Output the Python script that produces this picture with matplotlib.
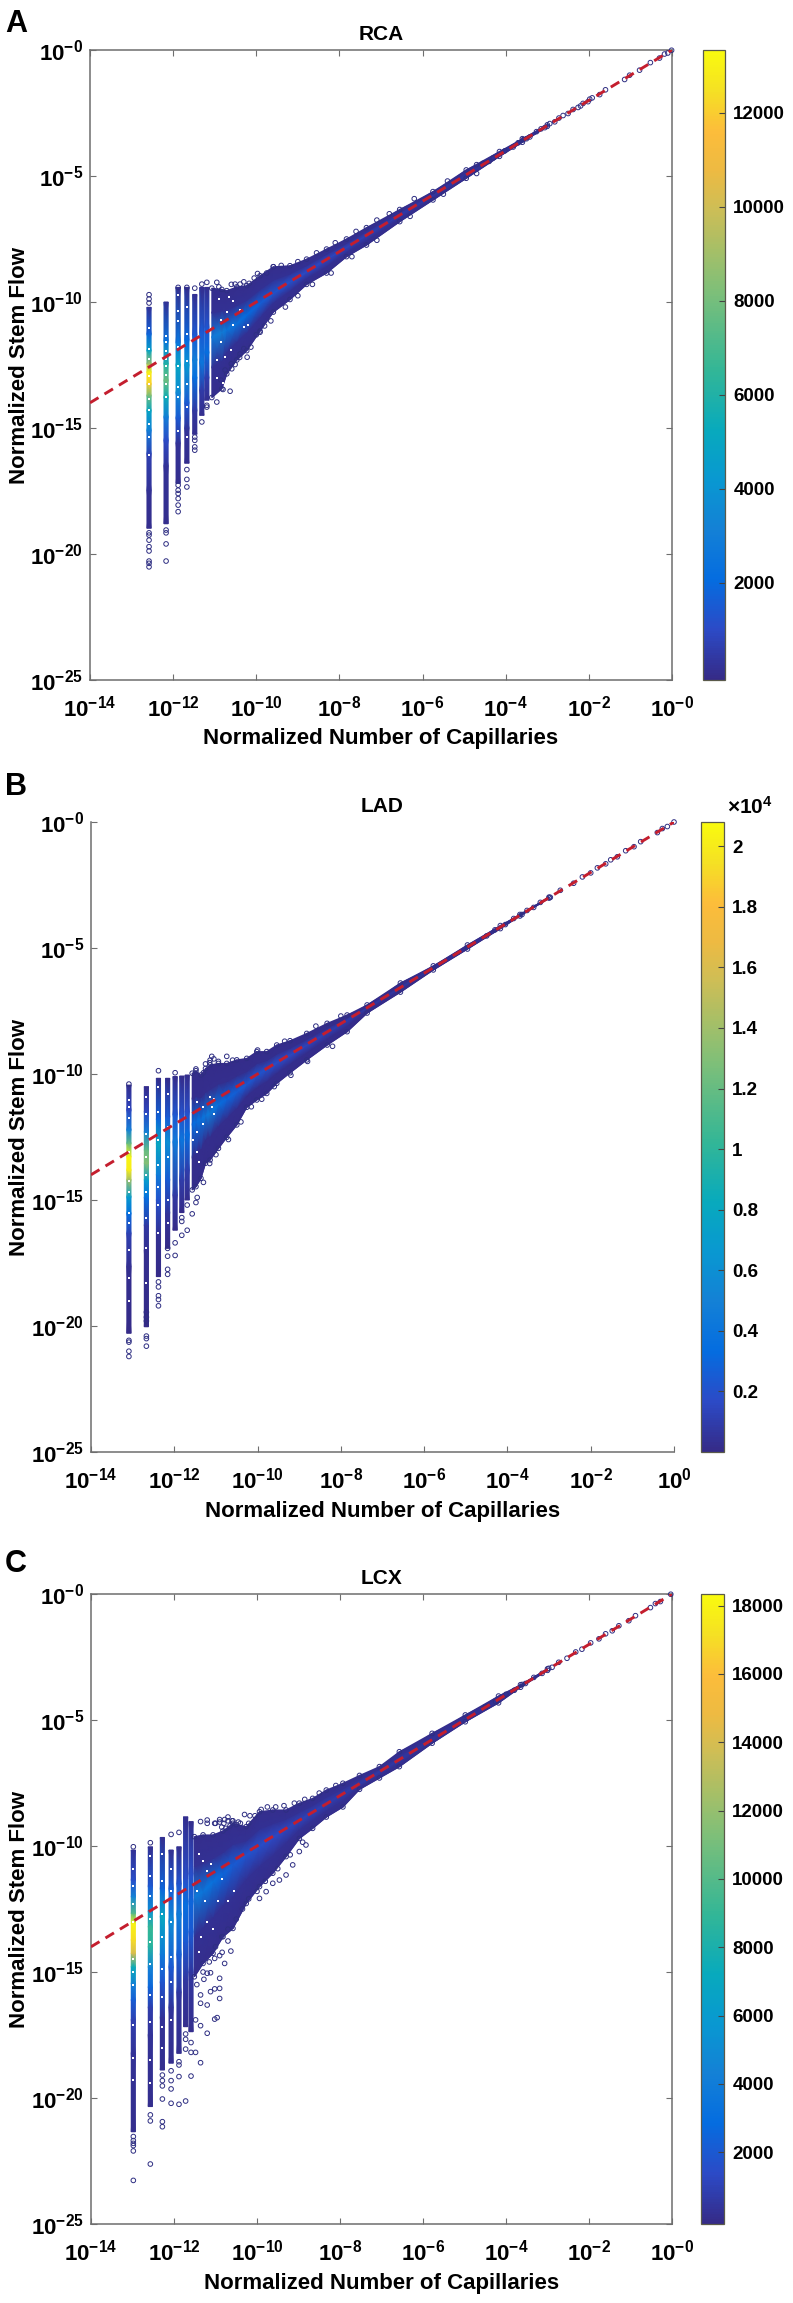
import matplotlib
matplotlib.use("Agg")
import matplotlib.pyplot as plt
import numpy as np
from matplotlib.cm import ScalarMappable
from matplotlib.colors import LinearSegmentedColormap, Normalize

plt.rcParams["font.family"] = ["Liberation Sans", "DejaVu Sans"]
plt.rcParams["font.weight"] = "bold"
plt.rcParams["mathtext.default"] = "regular"

W, H = 793, 2303
NAVY = "#2e2e82"
RED = "#c41e2e"
AXIS_GREY = "#6e6e6e"

# parula, sampled by eye from the colorbars
PARULA = [
    (0.000, (0.208, 0.166, 0.529)), (0.079, (0.171, 0.292, 0.779)),
    (0.159, (0.017, 0.427, 0.879)), (0.238, (0.078, 0.504, 0.838)),
    (0.317, (0.034, 0.597, 0.820)), (0.397, (0.030, 0.665, 0.740)),
    (0.492, (0.200, 0.715, 0.590)), (0.620, (0.500, 0.750, 0.470)),
    (0.746, (0.800, 0.745, 0.340)), (0.810, (0.930, 0.730, 0.260)),
    (0.873, (0.990, 0.740, 0.230)), (0.937, (0.960, 0.880, 0.140)),
    (1.000, (0.976, 0.983, 0.054)),
]

# all x / y values below are log10 exponents
# RCA
rca_col_x = [-12.58, -12.17, -11.88, -11.67, -11.48, -11.31, -11.19]
rca_col_y = [
    [-18.98, -17.47, -16.02, -15.09, -14.30, -13.71, -13.25, -12.78, -12.45, -11.93, -11.27, -10.21],
    [-18.80, -16.50, -15.49, -14.56, -13.77, -13.11, -12.45, -11.53, -10.00],
    [-17.20, -15.60, -14.60, -13.60, -12.50, -11.60, -9.42],
    [-16.40, -15.00, -14.00, -12.50, -11.50, -9.42],
    [-15.25, -14.30, -13.00, -12.30, -11.30, -9.70],
    [-14.50, -13.50, -12.40, -11.20, -9.42],
    [-13.90, -13.00, -12.00, -11.00, -9.42],
]
rca_col_n = [
    [50, 150, 700, 3000, 5000, 8000, 12000, 13000, 9000, 5000, 1800, 200],
    [50, 200, 1000, 3000, 5500, 7800, 6000, 2500, 150],
    [50, 250, 1500, 3500, 5000, 2500, 120],
    [50, 300, 1500, 4200, 2000, 100],
    [60, 400, 2200, 3000, 1500, 100],
    [80, 500, 2600, 1500, 100],
    [100, 600, 2200, 1300, 120],
]
rca_gap_y = [
    [-11.03, -11.86, -12.26, -12.59, -12.92, -13.25, -13.84, -14.30, -14.83, -15.36, -16.08],
    [-11.33, -11.60, -11.93, -12.26, -12.53, -12.88, -13.25, -13.77],
    [-9.71, -10.34, -10.74, -11.80, -12.53, -13.38, -13.77, -15.10],
    [-10.21, -11.27, -12.33, -13.25, -14.17, -15.36],
]
rca_edge_x = [-11.07, -10.83, -10.71, -10.47, -10.23, -9.91, -9.59, -9.19, -8.79, -8.31, -7.83, -7.35, -6.55, -5.75, -4.95, -4.15, -3.60, -3.00]
rca_edge_top = [-9.45, -9.50, -9.55, -9.40, -9.35, -8.96, -8.60, -8.56, -8.30, -7.90, -7.50, -7.05, -6.33, -5.62, -4.76, -4.03, -3.52, -2.97]
rca_edge_low = [-13.79, -13.44, -12.85, -12.30, -11.93, -11.15, -10.40, -9.90, -9.30, -8.85, -8.20, -7.74, -6.81, -5.95, -5.09, -4.22, -3.66, -3.03]
rca_ridge_y = [-11.40, -11.20, -11.10, -10.85, -10.50, -10.05, -9.65, -9.20, -8.80, -8.30, -7.83, -7.35, -6.55, -5.75, -4.95, -4.15, -3.60, -3.00]
rca_ridge_n = [2800, 3000, 2600, 2400, 2100, 1700, 1400, 1200, 1000, 900, 800, 700, 550, 450, 350, 250, 150, 100]
rca_out_x = [-12.58, -12.58, -12.58, -12.58, -12.58, -12.58, -12.58, -12.58, -12.58, -12.58, -12.58,
             -12.17, -12.17, -12.17, -12.17,
             -11.88, -11.88, -11.88, -11.88, -11.88, -11.88, -11.88,
             -11.67, -11.67, -11.67, -11.67,
             -11.48, -11.48, -11.48, -11.48, -11.48,
             -11.31, -11.31, -11.19, -11.19, -11.19,
             -10.95, -10.95, -10.63, -10.80, -10.22, -10.51, -10.59, -10.13, -10.39, -9.91, -10.51, -10.39, -10.17, -9.97, -9.59,
             -10.90, -10.60, -10.30, -10.05, -9.75, -9.40, -9.00, -8.55, -8.10, -7.60, -7.10, -6.80, -6.20, -5.40, -4.70,
             -10.85, -10.75, -10.60, -10.40, -10.30, -10.00, -9.80, -9.65, -9.30, -9.00, -8.65, -8.20, -7.70, -7.10, -6.30, -5.50, -4.70]
rca_out_y = [-9.71, -9.88, -10.04, -19.16, -19.25, -19.45, -19.71, -19.88, -20.28, -20.37, -20.51,
             -19.60, -19.16, -19.05, -20.28,
             -9.42, -17.27, -17.47, -17.60, -17.80, -18.06, -18.32,
             -9.42, -16.65, -17.04, -17.34,
             -9.45, -15.75, -15.88, -15.36, -15.49,
             -9.29, -14.76, -9.22, -14.10, -14.17,
             -9.22, -13.97, -13.54, -13.47, -12.19, -12.48, -12.65, -11.79, -12.06, -11.20, -9.29, -9.29, -9.26, -8.87, -8.60,
             -9.40, -9.30, -9.20, -9.05, -8.85, -8.55, -8.40, -8.05, -7.65, -7.20, -6.75, -6.50, -5.90, -5.20, -4.55,
             -13.10, -12.70, -12.45, -12.20, -11.85, -11.30, -10.95, -10.75, -10.20, -9.75, -9.30, -8.85, -8.20, -7.55, -6.60, -5.72, -4.90]
rca_speck_x = [-10.85, -10.85, -10.70, -10.55, -10.40, -10.95, -10.95, -10.75, -10.60, -10.30, -10.20, -10.80, -10.90, -10.65, -10.55]
rca_speck_y = [-10.70, -11.60, -10.40, -9.95, -10.30, -12.30, -13.00, -12.20, -11.90, -11.00, -10.90, -13.20, -9.90, -9.80, -10.90]
rca_tail_x = [-0.01, -0.10, -0.18, -0.30, -0.52, -0.78, -1.02, -1.14, -1.60, -1.74, -1.92, -1.98, -2.02, -2.14, -2.20, -2.26, -2.38, -2.50, -2.62, -2.72, -2.82, -2.94, -3.06, -3.15, -3.26, -3.42, -3.50, -3.58, -3.70, -3.82, -4.02, -4.30, -4.40, -4.55]
rca_tail_y = [-0.01, -0.12, -0.16, -0.32, -0.50, -0.80, -1.00, -1.17, -1.58, -1.77, -1.90, -1.95, -2.05, -2.12, -2.22, -2.28, -2.36, -2.52, -2.60, -2.70, -2.85, -2.92, -3.08, -3.13, -3.24, -3.45, -3.52, -3.56, -3.68, -3.85, -4.00, -4.28, -4.42, -4.50]
rca_ticks = [2000, 4000, 6000, 8000, 10000, 12000]
rca_clim = (-64, 13340)

# LAD
lad_col_x = [-13.09, -12.67, -12.38, -12.16, -11.98, -11.82, -11.69]
lad_col_y = [
    [-20.29, -17.64, -16.32, -15.53, -14.87, -14.20, -13.81, -13.28, -12.75, -12.22, -11.43, -10.44],
    [-20.03, -17.00, -16.00, -14.90, -14.20, -13.54, -13.02, -12.30, -11.50, -10.50],
    [-18.04, -16.30, -15.00, -14.00, -12.75, -11.80, -10.17],
    [-16.92, -15.50, -14.20, -12.70, -11.70, -10.17],
    [-16.20, -14.80, -12.70, -11.60, -10.10],
    [-15.50, -14.20, -12.60, -11.60, -10.08],
    [-15.00, -13.80, -12.40, -11.50, -10.04],
]
lad_col_n = [
    [50, 300, 1200, 3500, 7000, 14000, 20000, 20500, 12000, 5000, 1500, 200],
    [50, 300, 800, 3500, 7000, 13000, 12000, 5000, 1500, 150],
    [50, 400, 2000, 4500, 8000, 3000, 120],
    [60, 500, 2500, 6000, 2500, 120],
    [70, 800, 4500, 2200, 120],
    [80, 900, 4000, 2000, 120],
    [100, 1000, 3500, 1800, 120],
]
lad_gap_y = [
    [-11.02, -11.30, -11.75, -13.10, -14.25, -14.70, -15.50, -15.90, -17.00, -18.10, -19.00],
    [-10.90, -11.60, -12.40, -13.30, -14.00, -14.70, -15.70, -16.90, -18.30],
    [-10.50, -11.50, -12.60, -13.60, -14.50, -15.20, -16.30],
    [-10.80, -12.10, -13.30, -15.00, -15.90],
]
lad_edge_x = [-11.57, -11.48, -11.36, -11.25, -11.14, -10.94, -10.74, -10.50, -10.26, -10.02, -9.78, -9.54, -9.22, -8.82, -8.33, -7.85, -7.37, -6.57, -5.78, -4.96, -4.17, -3.70, -3.00]
lad_edge_top = [-9.97, -9.87, -10.04, -9.78, -9.64, -9.58, -9.58, -9.44, -9.38, -9.11, -9.11, -8.85, -8.68, -8.39, -7.99, -7.66, -7.26, -6.39, -5.71, -4.88, -4.11, -3.67, -2.98]
lad_edge_low = [-14.60, -14.47, -14.14, -13.54, -13.41, -12.95, -12.51, -12.02, -11.32, -11.03, -10.77, -10.37, -9.95, -9.44, -8.85, -8.32, -7.58, -6.75, -5.87, -5.04, -4.23, -3.73, -3.02]
lad_ridge_y = [-12.00, -11.90, -11.80, -11.65, -11.55, -11.20, -11.00, -10.70, -10.40, -10.05, -9.80, -9.55, -9.25, -8.85, -8.35, -7.87, -7.37, -6.57, -5.78, -4.96, -4.17, -3.70, -3.00]
lad_ridge_n = [3300, 3600, 3800, 4200, 4500, 3600, 3000, 2700, 2400, 2200, 2000, 1800, 1600, 1400, 1200, 1000, 800, 650, 500, 350, 200, 100, 100]
lad_out_x = [-13.09, -13.09, -13.09, -13.09, -13.09,
             -12.67, -12.67, -12.67, -12.67, -12.67, -12.67,
             -12.38, -12.38, -12.38, -12.38, -12.38, -12.38,
             -12.16, -12.16, -12.16, -12.16,
             -11.98, -11.98, -11.98, -11.82, -11.82, -11.82, -11.69, -11.69,
             -11.57, -11.48, -11.48, -11.25, -11.14, -11.10, -10.94, -10.74,
             -11.30, -11.15, -11.05, -10.60, -10.00, -9.35, -8.60, -8.00,
             -11.45, -11.30, -11.15, -11.00, -10.70, -10.40, -10.15, -9.90, -9.60, -9.20, -8.80, -8.20]
lad_out_y = [-10.40, -20.57, -20.64, -21.00, -21.21,
             -19.45, -19.65, -19.80, -20.40, -20.50, -20.80,
             -9.87, -18.25, -18.45, -18.80, -18.95, -19.20,
             -16.92, -17.23, -17.75, -17.95,
             -9.95, -16.70, -17.20, -15.70, -15.85, -16.40, -16.20, -15.20,
             -15.55, -9.80, -15.10, -9.60, -9.45, -9.30, -9.50, -9.30,
             -9.95, -9.55, -9.40, -9.45, -9.05, -8.70, -8.10, -7.70,
             -14.90, -14.30, -13.55, -13.20, -12.60, -11.90, -11.30, -11.00, -10.50, -10.05, -9.50, -8.90]
lad_speck_x = [-11.45, -11.30, -11.15, -11.10, -11.05, -11.05, -11.45, -11.45, -11.30, -11.40, -11.55]
lad_speck_y = [-11.10, -11.30, -10.90, -11.30, -11.60, -11.00, -12.30, -13.10, -12.00, -13.50, -12.60]
lad_tail_x = [0.00, -0.16, -0.28, -0.40, -0.80, -0.96, -1.16, -1.36, -1.52, -1.64, -1.84, -2.00, -2.20, -2.41, -2.73, -2.97, -3.21, -3.37, -3.53, -3.65, -3.85, -4.05, -4.30, -4.50]
lad_tail_y = [0.00, -0.18, -0.26, -0.42, -0.78, -0.98, -1.14, -1.38, -1.50, -1.66, -1.82, -2.02, -2.18, -2.43, -2.71, -2.99, -3.19, -3.39, -3.51, -3.67, -3.83, -4.07, -4.28, -4.52]
lad_ticks = [2000, 4000, 6000, 8000, 10000, 12000, 14000, 16000, 18000, 20000]
lad_clim = (0, 20800)

# LCX
lcx_col_x = [-12.98, -12.57, -12.28, -12.07, -11.88, -11.72, -11.59]
lcx_col_y = [
    [-21.34, -18.23, -16.90, -16.11, -15.45, -14.79, -14.26, -13.73, -13.07, -12.67, -12.01, -11.35, -10.16],
    [-20.34, -17.50, -16.40, -15.60, -14.80, -14.00, -13.20, -12.60, -11.60, -10.03],
    [-18.89, -16.80, -15.40, -14.30, -12.80, -11.70, -9.66],
    [-18.62, -16.40, -14.80, -13.00, -11.70, -10.16],
    [-18.23, -15.80, -14.30, -12.70, -11.50, -10.03],
    [-17.17, -15.30, -13.80, -12.30, -11.30, -8.84],
    [-17.37, -15.00, -13.40, -12.20, -11.10, -9.03],
]
lcx_col_n = [
    [50, 300, 900, 2200, 4500, 7500, 14000, 17000, 18000, 10000, 4500, 1500, 200],
    [50, 300, 800, 2500, 4500, 8500, 9000, 5500, 2000, 150],
    [50, 300, 1800, 3800, 7000, 2500, 120],
    [50, 400, 2000, 5000, 2200, 120],
    [60, 500, 2200, 4000, 1800, 100],
    [60, 500, 2000, 3000, 1500, 80],
    [60, 500, 2000, 2500, 1500, 80],
]
lcx_gap_y = [
    [-10.90, -11.60, -12.30, -13.00, -14.50, -15.00, -15.50, -17.10, -18.40, -19.30],
    [-10.40, -11.20, -12.00, -12.90, -13.80, -14.70, -15.90, -17.00, -18.50, -19.40],
    [-10.30, -11.40, -12.70, -13.60, -14.90, -16.00, -17.20, -18.00],
    [-10.90, -11.80, -13.00, -14.40, -15.40, -16.90],
]
lcx_edge_x = [-11.51, -11.30, -11.06, -10.82, -10.58, -10.26, -9.94, -9.62, -9.30, -8.98, -8.66, -8.33, -7.93, -7.53, -7.05, -6.57, -5.78, -4.98, -4.18, -3.65, -3.00]
lcx_edge_top = [-9.63, -9.56, -9.56, -9.40, -9.10, -9.23, -8.64, -8.57, -8.57, -8.30, -8.11, -7.78, -7.51, -7.20, -6.85, -6.26, -5.53, -4.80, -4.05, -3.60, -2.97]
lcx_edge_low = [-15.19, -14.66, -14.26, -13.60, -13.27, -12.28, -11.61, -11.08, -10.42, -9.70, -9.30, -8.85, -8.45, -7.75, -7.30, -6.85, -5.92, -5.07, -4.32, -3.70, -3.03]
lcx_ridge_y = [-12.00, -11.80, -11.40, -11.10, -10.75, -10.35, -10.00, -9.65, -9.30, -9.00, -8.66, -8.33, -7.93, -7.53, -7.05, -6.57, -5.78, -4.98, -4.18, -3.65, -3.00]
lcx_ridge_n = [3800, 3600, 3300, 2600, 2200, 1800, 1600, 1400, 1200, 1100, 1000, 900, 800, 750, 650, 550, 400, 300, 200, 100, 100]
lcx_out_x = [-12.98, -12.98, -12.98, -12.98, -12.98, -12.98, -12.98,
             -12.57, -12.57, -12.57, -12.57,
             -12.28, -12.28, -12.28, -12.28, -12.28, -12.28,
             -12.07, -12.07, -12.07, -12.07, -12.07,
             -11.88, -11.88, -11.88, -11.88, -11.88,
             -11.72, -11.72, -11.72, -11.72, -11.59, -11.59, -11.59,
             -11.36, -11.20, -11.20, -11.48, -11.36, -11.20, -11.48, -11.36, -11.02, -10.96, -10.90, -10.90, -10.90,
             -11.12, -11.02, -11.20, -11.36, -11.36, -11.28, -11.20, -11.12, -11.02, -10.90, -10.84, -10.78, -10.63, -10.70,
             -9.94, -9.78, -9.62, -9.46, -9.30, -9.14, -8.98, -8.82,
             -11.02, -10.90, -10.78, -10.70, -10.58, -10.45, -10.30, -10.17,
             -11.00, -10.90, -10.80, -10.70, -10.60, -10.85, -10.75, -10.65, -10.50, -10.40, -10.20, -10.05, -9.90, -9.75, -9.55, -9.35, -9.10, -8.85, -8.50, -8.10,
             -11.45, -11.30, -11.15, -11.00, -10.85, -10.70, -10.50, -10.35, -10.20, -10.00, -9.80, -9.50, -9.20, -8.90]
lcx_out_y = [-10.03, -21.53, -21.69, -21.80, -21.89, -22.10, -23.27,
             -9.87, -20.67, -20.91, -22.62,
             -19.09, -19.31, -19.52, -20.04, -20.94, -21.14,
             -9.54, -18.92, -19.31, -19.64, -20.21,
             -9.46, -18.56, -18.69, -19.15, -20.25,
             -17.46, -17.67, -18.06, -20.12, -17.80, -18.19, -19.13,
             -9.03, -8.97, -9.10, -16.90, -17.13, -17.43, -18.19, -18.60, -16.87, -16.81, -15.25, -15.65, -16.05,
             -15.78, -15.67, -16.31, -15.91, -16.24, -15.29, -15.05, -15.03, -14.46, -14.35, -14.22, -14.66, -14.17, -13.77,
             -12.08, -11.81, -11.48, -11.35, -11.15, -10.75, -10.22, -9.96,
             -9.10, -8.95, -8.95, -8.85, -9.00, -9.05, -8.75, -8.80,
             -9.10, -9.05, -9.10, -9.00, -9.00, -9.25, -9.30, -9.20, -9.15, -9.10, -9.10, -8.80, -8.55, -8.45, -8.45, -8.40, -8.30, -8.15, -7.90, -7.60,
             -15.50, -15.00, -14.60, -14.00, -13.60, -13.30, -12.90, -12.50, -12.10, -11.80, -11.40, -10.90, -10.35, -9.85]
lcx_speck_x = [-11.40, -11.30, -11.20, -11.10, -11.25, -11.20, -11.05, -10.95, -11.35, -11.40, -10.85, -10.70, -10.55, -11.45]
lcx_speck_y = [-10.30, -10.60, -11.00, -10.70, -12.20, -13.00, -13.30, -12.20, -13.60, -14.20, -11.30, -12.20, -11.80, -11.80]
lcx_tail_x = [-0.03, -0.28, -0.40, -0.52, -0.88, -1.04, -1.28, -1.44, -1.60, -1.76, -1.96, -2.17, -2.32, -2.53, -2.73, -2.89, -2.97, -3.13, -3.33, -3.53, -3.61, -3.80, -4.00, -4.25, -4.50]
lcx_tail_y = [-0.01, -0.30, -0.38, -0.54, -0.86, -1.06, -1.26, -1.46, -1.58, -1.78, -1.94, -2.19, -2.30, -2.55, -2.71, -2.91, -2.95, -3.15, -3.31, -3.55, -3.59, -3.82, -3.98, -4.27, -4.48]
lcx_ticks = [2000, 4000, 6000, 8000, 10000, 12000, 14000, 16000, 18000]
lcx_clim = (-100, 18340)

x_exponents = [-14, -12, -10, -8, -6, -4, -2, 0]
y_exponents = [-25, -20, -15, -10, -5, 0]
fit_x = [-14, 0]
fit_y = [-14, 0]


def px_rect(left, top, right, bottom):
    return [left / W, 1 - bottom / H, (right - left) / W, (bottom - top) / H]


def pow_label(exp, zero_minus=True):
    if exp == 0 and zero_minus:
        return r"10$^{-0}$"
    return "10$^{%d}$" % exp


def draw_cloud(ax, norm, edge_x, low, ridge, top, ridge_n):
    xs = 10.0 ** np.array(edge_x)
    low = np.array(low)
    top = np.array(top)
    ridge = np.array(ridge)
    base = np.full_like(low, 90.0)
    yy = np.vstack([low, (low + ridge) / 2, ridge, (ridge + top) / 2, top])
    cc = np.vstack([base, base + 100, ridge_n, base + 100, base])
    ax.pcolormesh(np.tile(xs, (5, 1)), 10.0 ** yy, cc, shading="gouraud", cmap=parula, norm=norm, zorder=2)
    ax.fill_between(xs, 10.0 ** low, 10.0 ** top, color=parula(norm(90)), lw=0, zorder=1.5)


def draw_columns(ax, norm, col_x, col_y, col_n):
    half = 0.05
    for cx, ys, ns in zip(col_x, col_y, col_n):
        xx = 10.0 ** np.array([[cx - half, cx + half]] * len(ys))
        yy = 10.0 ** np.array([[y, y] for y in ys])
        cc = np.array([[n, n] for n in ns], dtype=float)
        ax.pcolormesh(xx, yy, cc, shading="gouraud", cmap=parula, norm=norm, zorder=3)


def draw_panel(rect, cbar_rect, title, letter, letter_y, clim, ticks, col_x, col_y, col_n, gap_y,
               edge_x, edge_top, edge_low, ridge_y, ridge_n, out_x, out_y, speck_x, speck_y, tail_x, tail_y,
               boxed=True, x_zero_minus=True, tick_fmt=str):
    left, top_px, right, bottom = rect
    ax = fig.add_axes(px_rect(left, top_px, right, bottom))
    norm = Normalize(*clim)
    ax.set_xscale("log")
    ax.set_yscale("log")
    ax.set_xlim(1e-14, 1)
    ax.set_ylim(1e-25, 1)

    draw_cloud(ax, norm, edge_x, edge_low, ridge_y, edge_top, ridge_n)
    draw_columns(ax, norm, col_x, col_y, col_n)

    circle = dict(s=11, facecolors="none", edgecolors=NAVY, linewidths=0.7, zorder=4, clip_on=False)
    for x_list, y_list in [(edge_x, edge_top), (edge_x, edge_low), (out_x, out_y), (tail_x, tail_y)]:
        ax.scatter(10.0 ** np.array(x_list), 10.0 ** np.array(y_list), **circle)
    for cx, ys in zip(col_x, gap_y):
        ax.scatter([10.0 ** cx] * len(ys), 10.0 ** np.array(ys), marker="s", s=2.2, c="white", lw=0, zorder=4)
    ax.scatter(10.0 ** np.array(speck_x), 10.0 ** np.array(speck_y), marker="s", s=2.2, c="white", lw=0, zorder=4)

    ax.plot(10.0 ** np.array(fit_x), 10.0 ** np.array(fit_y), color=RED, lw=2.1, ls=(0, (3.4, 2.4)), zorder=5)

    ax.set_xticks([10.0 ** e for e in x_exponents])
    ax.set_xticklabels([pow_label(e, x_zero_minus) for e in x_exponents])
    ax.set_yticks([10.0 ** e for e in y_exponents])
    ax.set_yticklabels([pow_label(e) for e in y_exponents])
    ax.minorticks_off()
    ax.tick_params(which="major", direction="in", length=4, width=0.8, color=AXIS_GREY,
                   labelsize=16, pad=5, top=boxed, right=boxed)
    ax.tick_params(axis="x", pad=11)
    for name, spine in ax.spines.items():
        spine.set_color(AXIS_GREY)
        spine.set_linewidth(1.1)
        if name in ("top", "right"):
            spine.set_visible(boxed)

    mid_x = (left + right) / 2
    fig.text(mid_x / W, 1 - (top_px - 10) / H, title, ha="center", va="baseline", fontsize=15)
    fig.text(mid_x / W, 1 - (bottom + 59) / H, "Normalized Number of Capillaries", ha="center", va="center", fontsize=16)
    fig.text(20 / W, 1 - (top_px + bottom) / 2 / H, "Normalized Stem Flow", rotation=90, ha="center", va="center", fontsize=16)
    fig.text(5 / W, 1 - letter_y / H, letter, ha="left", va="baseline", fontsize=22)

    cax = fig.add_axes(px_rect(*cbar_rect))
    cb = fig.colorbar(ScalarMappable(norm=norm, cmap=parula), cax=cax, ticks=ticks)
    cb.ax.set_yticklabels([tick_fmt(t) for t in ticks])
    cb.ax.tick_params(direction="in", length=4, width=0.8, color="#444444", labelsize=13.5, pad=6)
    cb.outline.set_edgecolor("#5a5a4a")
    cb.outline.set_linewidth(0.9)
    return ax


parula = LinearSegmentedColormap.from_list("parula", PARULA, N=256)
fig = plt.figure(figsize=(W / 100, H / 100), dpi=100, facecolor="white")

draw_panel((90, 50, 672, 680), (703, 50, 725, 680), "RCA", "A", 32, rca_clim, rca_ticks,
           rca_col_x, rca_col_y, rca_col_n, rca_gap_y, rca_edge_x, rca_edge_top, rca_edge_low,
           rca_ridge_y, rca_ridge_n, rca_out_x, rca_out_y, rca_speck_x, rca_speck_y, rca_tail_x, rca_tail_y)
draw_panel((91, 822, 674, 1452), (701, 822, 724, 1452), "LAD", "B", 795, lad_clim, lad_ticks,
           lad_col_x, lad_col_y, lad_col_n, lad_gap_y, lad_edge_x, lad_edge_top, lad_edge_low,
           lad_ridge_y, lad_ridge_n, lad_out_x, lad_out_y, lad_speck_x, lad_speck_y, lad_tail_x, lad_tail_y,
           boxed=False, x_zero_minus=False, tick_fmt=lambda t: "%g" % (t / 10000))
draw_panel((91, 1594, 672, 2224), (701, 1594, 724, 2224), "LCX", "C", 1572, lcx_clim, lcx_ticks,
           lcx_col_x, lcx_col_y, lcx_col_n, lcx_gap_y, lcx_edge_x, lcx_edge_top, lcx_edge_low,
           lcx_ridge_y, lcx_ridge_n, lcx_out_x, lcx_out_y, lcx_speck_x, lcx_speck_y, lcx_tail_x, lcx_tail_y)

fig.text(727 / W, 1 - 814 / H, "×10$^{4}$", ha="left", va="baseline", fontsize=15)

fig.savefig("out.png", dpi=100)
